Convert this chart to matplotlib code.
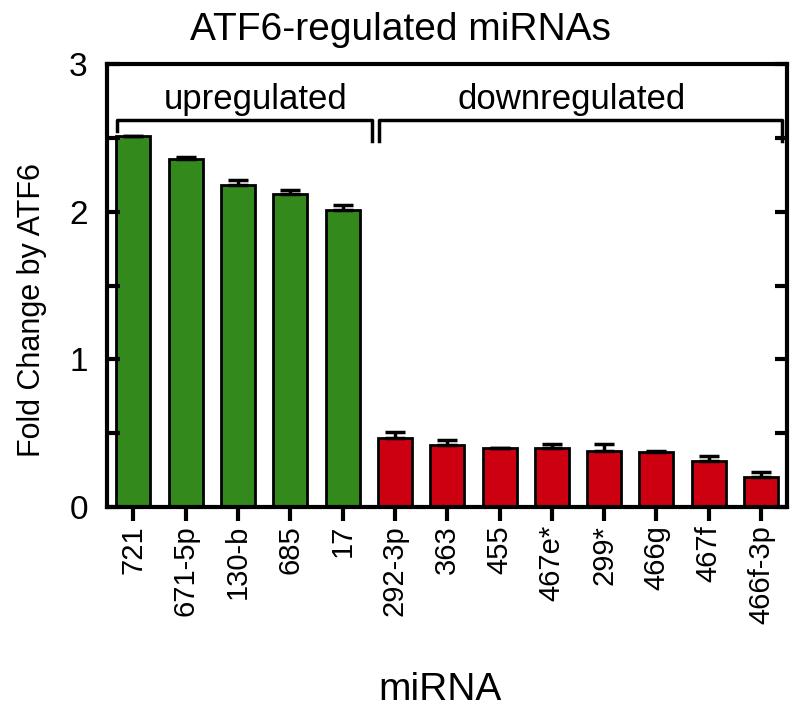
import matplotlib
matplotlib.use("Agg")
import matplotlib.pyplot as plt
import numpy as np

plt.rcParams['font.family'] = ['Liberation Sans', 'DejaVu Sans']

# miRNA names and fold change values
mirnas = ['721', '671-5p', '130-b', '685', '17',
          '292-3p', '363', '455', '467e*', '299*', '466g', '467f', '466f-3p']
fold = [2.51, 2.36, 2.18, 2.12, 2.01,
        0.47, 0.42, 0.40, 0.40, 0.38, 0.375, 0.31, 0.205]
err = [0.005, 0.01, 0.035, 0.025, 0.035,
       0.035, 0.03, 0.0, 0.025, 0.045, 0.005, 0.035, 0.03]
n_up = 5

green = '#33891b'
red = '#cc0010'
colors = [green] * n_up + [red] * (len(mirnas) - n_up)

fig = plt.figure(figsize=(8, 7.21), dpi=100)
ax = fig.add_axes([0.134, 0.297, 0.85, 0.614])

x = np.arange(len(mirnas))
ax.bar(x, fold, width=0.65, color=colors, edgecolor='black', linewidth=2,
       yerr=[np.zeros(len(err)), err], capsize=7,
       error_kw=dict(elinewidth=2.5, capthick=2.5, ecolor='black'))

ax.set_xlim(-0.5, len(mirnas) - 0.5)
ax.set_ylim(0, 3)
ax.set_yticks([0, 1, 2, 3])
ax.set_yticks([0.5, 1.5, 2.5], minor=True)
ax.set_xticks(x)
ax.set_xticklabels(mirnas, rotation=90, fontsize=21)
ax.tick_params(axis='y', which='both', direction='in', length=9, width=3,
               right=True, labelsize=24, pad=14)
ax.tick_params(axis='x', direction='out', length=10, width=3, pad=3)

for s in ax.spines.values():
    s.set_linewidth(3)

# brackets
ax.plot([-0.31, -0.31, 4.56, 4.56], [2.55, 2.62, 2.62, 2.48], color='black', lw=2.5)
ax.plot([4.69, 4.69, 12.4, 12.4], [2.48, 2.62, 2.62, 2.48], color='black', lw=2.5)
ax.text(2.33, 2.65, 'upregulated', ha='center', va='bottom', fontsize=25)
ax.text(8.38, 2.65, 'downregulated', ha='center', va='bottom', fontsize=25)

fig.text(0.5, 1 - 30 / 721, 'ATF6-regulated miRNAs', ha='center', va='center', fontsize=28)
fig.text(32 / 800, 1 - 310 / 721, 'Fold Change by ATF6', ha='center', va='center',
         rotation=90, fontsize=22)
fig.text(440 / 800, 1 - 690 / 721, 'miRNA', ha='center', va='center', fontsize=28)

fig.savefig('out.png', dpi=100)
